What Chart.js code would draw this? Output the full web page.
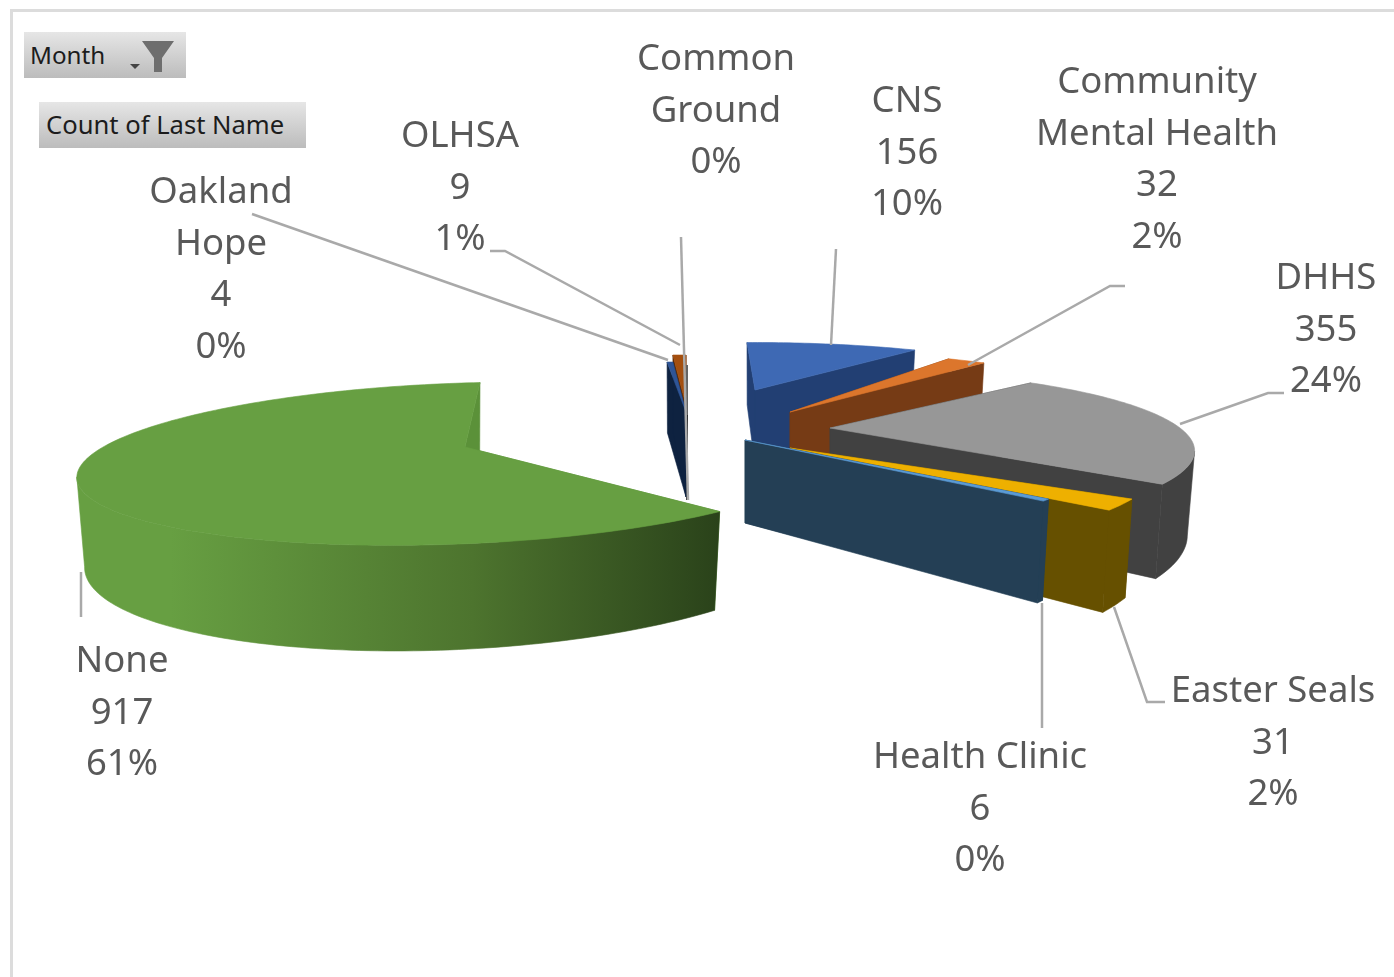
<!DOCTYPE html>
<html>
<head>
<meta charset="utf-8">
<title>Count of Last Name</title>
<script src="https://cdn.jsdelivr.net/npm/chart.js@4"></script>
<style>
  html, body { margin: 0; padding: 0; background: #fff; }
  #frame { position: absolute; left: 10px; top: 9px; width: 1384px; height: 968px; border-left: 3px solid #dcdcdc; border-top: 3px solid #dcdcdc; box-sizing: border-box; }
  canvas { position: absolute; left: 0; top: 0; }
  .pivot { position: absolute; height: 46px; line-height: 46px; background: linear-gradient(#e6e6e6, #bcbcbc); font-family: "Noto Sans", sans-serif; color: #1c1c1c; box-sizing: border-box; white-space: nowrap; }
  #monthBtn { left: 24px; top: 32px; width: 162px; padding-left: 6px; font-size: 24.2px; }
  #countBtn { left: 39px; top: 102px; width: 267px; padding-left: 7px; font-size: 25.6px; }
  #monthBtn svg { position: absolute; left: 104px; top: 6px; }
</style>
</head>
<body>
<div id="frame"></div>
<canvas id="pie" width="1394" height="977"></canvas>
<div class="pivot" id="monthBtn">Month<svg width="54" height="38"><path d="M24 3h32L44 20v14h-8V20z" transform="translate(-10 0)" fill="#6e6e6e"/><path d="M2 26h10l-5 5z" fill="#444"/></svg></div>
<div class="pivot" id="countBtn">Count of Last Name</div>
<script>
const categories = ["CNS", "Community Mental Health", "DHHS", "Easter Seals", "Health Clinic", "None", "Oakland Hope", "OLHSA", "Common Ground"];
const counts = [156, 32, 355, 31, 6, 917, 4, 9, 0];
const topColors = ["#3e69b4", "#dc762c", "#979797", "#eeb000", "#5b9bd5", "#679f42", "#2f5597", "#a44f0f", "#636363"];
const sideColors = ["#223f73", "#763b15", "#414141", "#665000", "#243f55", "#679f42", "#0e2240", "#5e2c07", "#2b2b2b"];

// label text lines, common ground has no count in the original
const labelLines = [["CNS"], ["Community", "Mental Health"], ["DHHS"], ["Easter Seals"], ["Health Clinic"], ["None"], ["Oakland", "Hope"], ["OLHSA"], ["Common", "Ground"]];
const labelHasCount = [true, true, true, true, true, true, true, true, false];
const labelPos = [[907, 102], [1157, 83], [1326, 279], [1273, 692], [980, 758], [122, 662], [221, 193], [460, 137], [716, 60]];
const leaders = [
  [[836, 249], [831, 345]],
  [[1125, 286], [1110, 286], [968, 365]],
  [[1284, 393], [1268, 393], [1180, 424]],
  [[1165, 702], [1147, 702], [1114, 607]],
  [[1042, 728], [1042, 603]],
  [[81, 617], [81, 572]],
  [[252, 214], [668, 360]],
  [[490, 251], [505, 251], [680, 345]],
  [[681, 237], [688, 500]]
];

// 3d look: each slice has an apex, and a plane to screen projection
const rightView = { a: 350, b: 0, d: 0, e: 75, g: 0, h: -0.28 };
const leftView = { a: 368, b: -38, d: -5, e: 78, g: 0.005, h: -0.205 };
const midView = { a: 420, b: 0, d: 0, e: 60, g: 0, h: -0.2 };
const cnsView = { a: 320, b: 0, d: 0, e: 57, g: 0, h: -0.2 };
const sliceViews = [
  { v: cnsView, x: 755, y: 390, rot: -0.03, r: 1, t: 75 },
  { v: rightView, x: 790, y: 412, rot: -0.08, r: 1.05, t: 85 },
  { v: rightView, x: 830, y: 428, rot: -0.02, r: 1, t: 78 },
  { v: rightView, x: 790, y: 448, rot: -0.08, r: 1, t: 83 },
  { v: rightView, x: 745, y: 440, rot: -0.08, r: 0.96, t: 83 },
  { v: leftView, x: 465, y: 447, rot: 0, r: 1, t: 84 },
  { v: midView, x: 686, y: 412, rot: 0, r: 1, t: 85 },
  { v: midView, x: 686, y: 405, rot: 0, r: 1, t: 85 },
  { v: midView, x: 687, y: 415, rot: 0, r: 1, t: 85 }
];
// back slices first, the small ones sit at the back of oakland hope
const drawOrder = [0, 1, 2, 3, 4, 5, 7, 8, 6];

function project(s, theta, r) {
  const t = theta + s.rot;
  const u = r * s.r * Math.sin(t);
  const f = -r * s.r * Math.cos(t);
  const w = 1 + s.v.g * u + s.v.h * f;
  const px = s.x + (s.v.a * u + s.v.b * f) / w;
  const py = s.y + (s.v.d * u + s.v.e * f) / w;
  // bottom rim sits a bit inward, nearer means taller
  return { x: px, y: py, bx: s.x + (px - s.x) * 0.98, by: py + s.t / w };
}

function fillPoly(ctx, pts, fill, lw) {
  ctx.beginPath();
  pts.forEach((p, i) => i ? ctx.lineTo(p[0], p[1]) : ctx.moveTo(p[0], p[1]));
  ctx.closePath();
  ctx.fillStyle = fill;
  ctx.strokeStyle = fill;
  ctx.lineWidth = lw;
  ctx.fill();
  ctx.stroke();
}

function drawSlice(ctx, arc, i) {
  const s = sliceViews[i];
  const a0 = arc.startAngle + Math.PI / 2;
  const a1 = arc.endAngle + Math.PI / 2;
  const rim = [];
  const steps = Math.max(2, Math.ceil((a1 - a0) / 0.02));
  for (let k = 0; k <= steps; k++) rim.push(project(s, a0 + (a1 - a0) * k / steps, 1));
  const apex = project(s, 0, 0);
  const first = rim[0];
  const last = rim[rim.length - 1];
  const side = sideColors[i];
  const lw = a1 - a0 < 0.005 ? 2 : 0.6;

  let outer = side;
  if (categories[i] === "None") {
    outer = ctx.createLinearGradient(170, 0, 720, 0);
    outer.addColorStop(0, "#679f42");
    outer.addColorStop(0.55, "#4d742e");
    outer.addColorStop(1, "#2a421a");
  }
  const wall = categories[i] === "None" ? "#5b9139" : side;

  fillPoly(ctx, [[apex.x, apex.y], [first.x, first.y], [first.bx, first.by], [apex.bx, apex.by]], wall, lw);
  fillPoly(ctx, [[apex.x, apex.y], [last.x, last.y], [last.bx, last.by], [apex.bx, apex.by]], wall, lw);
  // only the part of the outer band that faces the viewer, as one polygon
  const facing = rim.filter((p, k) => (k < rim.length - 1 && rim[k + 1].x < p.x) || (k > 0 && p.x < rim[k - 1].x));
  if (facing.length > 1) {
    fillPoly(ctx, facing.map(p => [p.x, p.y]).concat(facing.slice().reverse().map(p => [p.bx, p.by])), outer, 0.6);
  }
  const face = [[apex.x, apex.y]].concat(rim.map(p => [p.x, p.y]));
  fillPoly(ctx, face, arc.options.backgroundColor, lw);
}

const pie3d = {
  id: "pie3d",
  beforeDatasetsDraw(chart) {
    const ctx = chart.ctx;
    const arcs = chart.getDatasetMeta(0).data;
    ctx.save();
    drawOrder.forEach(i => drawSlice(ctx, arcs[i], i));
    ctx.restore();
    return false;
  },
  afterDraw(chart) {
    const ctx = chart.ctx;
    const total = counts.reduce((a, b) => a + b, 0);
    ctx.save();
    ctx.strokeStyle = "#a9a9a9";
    ctx.lineWidth = 2.5;
    leaders.forEach(line => {
      ctx.beginPath();
      line.forEach((p, i) => i ? ctx.lineTo(p[0], p[1]) : ctx.moveTo(p[0], p[1]));
      ctx.stroke();
    });
    ctx.fillStyle = "#595959";
    ctx.font = '36.5px "Noto Sans", sans-serif';
    ctx.textAlign = "center";
    ctx.textBaseline = "middle";
    categories.forEach((c, i) => {
      const lines = labelLines[i].slice();
      if (labelHasCount[i]) lines.push(String(counts[i]));
      lines.push(Math.round(counts[i] / total * 100) + "%");
      lines.forEach((t, k) => ctx.fillText(t, labelPos[i][0], labelPos[i][1] + k * 51.5));
    });
    ctx.restore();
  }
};

new Chart(document.getElementById("pie"), {
  type: "pie",
  data: {
    labels: categories,
    datasets: [{ data: counts, backgroundColor: topColors, borderWidth: 0 }]
  },
  options: {
    responsive: false,
    animation: false,
    plugins: { legend: { display: false }, tooltip: { enabled: false } }
  },
  plugins: [pie3d]
});
</script>
</body>
</html>
